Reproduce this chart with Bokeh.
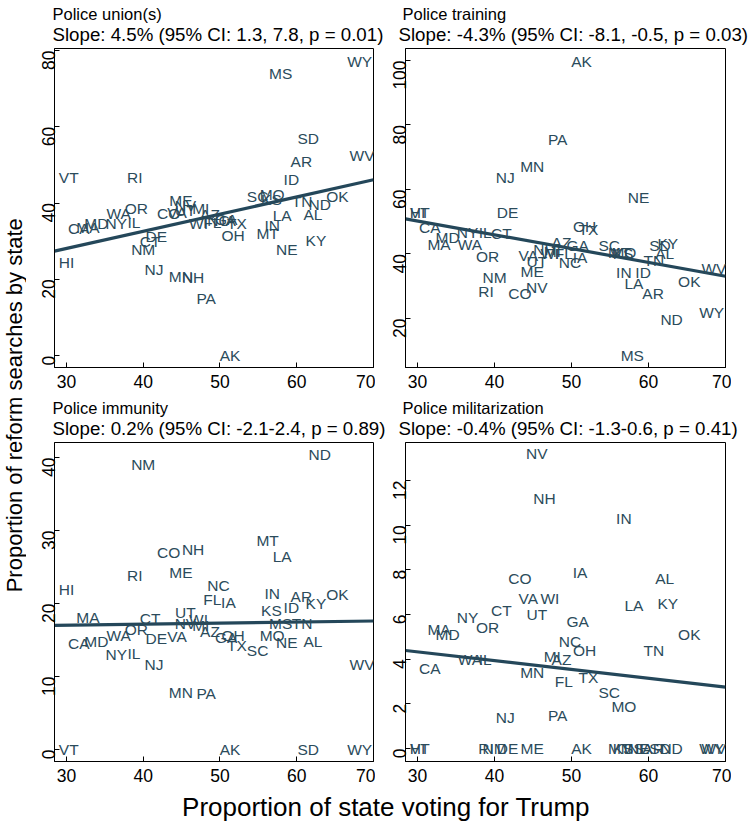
import math
from bokeh.plotting import figure
from bokeh.layouts import row, column
from bokeh.models import Range1d, FixedTicker, ColumnDataSource, Label
from bokeh.core.properties import value
from bokeh.embed import file_html
from bokeh.resources import INLINE

# ---------------- data ----------------
states = ["AL", "AK", "AZ", "AR", "CA", "CO", "CT", "DE", "FL", "GA",
          "HI", "ID", "IL", "IN", "IA", "KS", "KY", "LA", "ME", "MD",
          "MA", "MI", "MN", "MS", "MO", "MT", "NE", "NV", "NH", "NJ",
          "NM", "NY", "NC", "ND", "OH", "OK", "OR", "PA", "RI", "SC",
          "SD", "TN", "TX", "UT", "VT", "VA", "WA", "WV", "WI", "WY"]

trump_share = [62.1, 51.3, 48.7, 60.6, 31.6, 43.3, 40.9, 41.7, 49.0, 50.8,
               30.0, 59.3, 38.8, 56.8, 51.1, 56.7, 62.5, 58.1, 44.9, 33.9,
               32.8, 47.5, 44.9, 57.9, 56.8, 56.2, 58.7, 45.5, 46.5, 41.4,
               40.0, 36.5, 49.8, 63.0, 51.7, 65.3, 39.1, 48.2, 38.9, 54.9,
               61.5, 60.7, 52.2, 45.5, 30.3, 44.4, 36.8, 68.5, 47.2, 68.2]

union = [37.0, 0.0, 37.0, 51.0, 33.3, 37.3, 29.8, 31.2, 35.0, 35.8,
         24.5, 46.1, 35.0, 34.1, 35.5, 40.8, 30.2, 36.7, 40.7, 34.6,
         33.5, 38.6, 20.8, 73.9, 42.3, 31.9, 27.7, 39.4, 20.4, 22.7,
         27.7, 34.6, 35.5, 39.6, 31.5, 41.7, 38.5, 15.0, 46.8, 41.7,
         56.9, 40.4, 34.7, 38.0, 46.8, 37.5, 37.2, 52.5, 34.6, 77.2]

training = [40.1, 99.8, 43.7, 27.7, 48.1, 27.7, 46.3, 53.0, 40.0, 42.6,
            52.7, 34.4, 46.8, 34.4, 39.0, 40.2, 43.2, 30.8, 34.7, 45.2,
            43.0, 40.9, 67.1, 8.5, 40.6, 40.5, 57.6, 29.7, 41.3, 63.8,
            32.6, 46.5, 37.5, 19.6, 48.5, 31.6, 39.2, 75.4, 28.5, 42.6,
            42.6, 38.0, 47.5, 37.8, 52.7, 39.5, 43.0, 35.4, 40.0, 22.0]

immunity = [14.8, 0.0, 16.1, 20.9, 14.5, 27.0, 17.9, 15.2, 20.6, 15.4,
            21.9, 19.5, 13.1, 21.4, 20.2, 19.0, 20.0, 26.4, 24.3, 14.8,
            18.1, 17.0, 7.8, 17.3, 15.6, 28.6, 14.7, 17.3, 27.4, 11.7,
            39.1, 13.0, 22.5, 40.4, 15.6, 21.3, 16.4, 7.7, 23.8, 13.5,
            0.0, 17.2, 14.2, 18.7, 0.0, 15.5, 15.6, 11.7, 17.8, 0.0]

militarization = [7.6, 0.0, 4.0, 0.0, 3.6, 7.6, 6.2, 0.0, 3.0, 5.7,
                  0.0, 0.0, 4.0, 10.3, 7.9, 0.0, 6.5, 6.4, 0.0, 5.1,
                  5.35, 4.1, 3.4, 0.0, 1.9, 0.0, 0.0, 13.2, 11.2, 1.4,
                  0.0, 5.85, 4.8, 0.0, 4.4, 5.1, 5.4, 1.5, 0.0, 2.5,
                  0.0, 4.4, 3.2, 6.0, 0.0, 6.7, 4.0, 0.0, 6.7, 0.0]

panel_titles = ["Police union(s)", "Police training",
                "Police immunity", "Police militarization"]
slope_texts = ["Slope: 4.5% (95% CI: 1.3, 7.8, p = 0.01)",
               "Slope: -4.3% (95% CI: -8.1, -0.5, p = 0.03)",
               "Slope: 0.2% (95% CI: -2.1-2.4, p = 0.89)",
               "Slope: -0.4% (95% CI: -1.3-0.6, p = 0.41)"]

# fitted lines, at the left and right edges
fit_x = [28.44, 70.0]
union_fit = [27.4, 46.1]
training_fit = [50.9, 33.1]
immunity_fit = [17.0, 17.6]
militarization_fit = [4.39, 2.75]

x_ticks = [30, 40, 50, 60, 70]
union_ticks = [0, 20, 40, 60, 80]
training_ticks = [20, 40, 60, 80, 100]
immunity_ticks = [0, 10, 20, 30, 40]
militarization_ticks = [0, 2, 4, 6, 8, 10, 12]

x_title = "Proportion of state voting for Trump"
y_title = "Proportion of reform searches by state"

# ---------------- style ----------------
FONT = "Liberation Sans"
LABEL_COLOR = "#2b4b5b"
LINE_COLOR = "#24475a"
FRAME_H = 319
YLAB_W = 26
HEADER_W = 726


def make_panel(yvals, fit_y, y_range, yticks, left, right, bottom, frame_w):
    p = figure(frame_width=frame_w, frame_height=FRAME_H,
               x_range=Range1d(28.44, 70.0), y_range=Range1d(*y_range),
               output_backend="svg", toolbar_location=None, title=None,
               min_border_left=left, min_border_right=right,
               min_border_top=1, min_border_bottom=bottom)
    p.outline_line_color = "black"
    p.outline_line_width = 1
    p.grid.visible = False
    p.background_fill_color = "white"
    p.border_fill_color = "white"

    for ax in (p.xaxis[0], p.yaxis[0]):
        ax.axis_line_color = "black"
        ax.major_tick_line_color = "black"
        ax.major_tick_in = 5
        ax.major_tick_out = 0
        ax.minor_tick_line_color = None
        ax.major_label_text_font = FONT
        ax.major_label_text_font_size = "17.5px"
        ax.major_label_text_color = "black"
    p.xaxis.ticker = FixedTicker(ticks=x_ticks)
    p.yaxis.ticker = FixedTicker(ticks=yticks)
    p.xaxis.major_label_standoff = 7
    p.yaxis.major_label_standoff = 6
    p.yaxis.major_label_orientation = math.pi / 2

    src = ColumnDataSource(dict(x=trump_share, y=yvals, t=states))
    p.line(fit_x, fit_y, line_color=LINE_COLOR, line_width=3.2)
    p.text("x", "y", text="t", source=src, text_align="center",
           text_baseline="middle", text_font=value(FONT),
           text_font_size="15.5px", text_color=LABEL_COLOR)
    return p


def blank(width, height, xr, yr):
    f = figure(width=width, height=height, x_range=Range1d(*xr),
               y_range=Range1d(*yr), output_backend="svg",
               toolbar_location=None, min_border=0, title=None)
    f.axis.visible = False
    f.grid.visible = False
    f.outline_line_color = None
    return f


def header(height, left_title, left_slope, right_title, right_slope,
           y_title_pos, y_slope_pos):
    h = blank(HEADER_W, height, (0, HEADER_W), (0, height))
    for x, y, t, size in [(26, y_title_pos, left_title, "16.5px"),
                          (26, y_slope_pos, left_slope, "18.7px"),
                          (376, y_title_pos, right_title, "16.5px"),
                          (372, y_slope_pos, right_slope, "18.7px")]:
        h.add_layout(Label(x=x, y=y, text=t, text_align="left",
                           text_baseline="middle", text_font=FONT,
                           text_font_size=size, text_color="black"))
    return h


p1 = make_panel(union, union_fit, (-3.1, 80.5), union_ticks, 28, 2, 29, 319)
p2 = make_panel(training, training_fit, (4.8, 103.7), training_ticks,
                30, 6, 29, 320)
p3 = make_panel(immunity, immunity_fit, (-1.64, 42.05), immunity_ticks,
                28, 2, 29, 319)
p4 = make_panel(militarization, militarization_fit, (-0.58, 13.7),
                militarization_ticks, 30, 6, 29, 320)

h1 = header(47, panel_titles[0], slope_texts[0], panel_titles[1],
            slope_texts[1], 34, 13)
h2 = header(45, panel_titles[2], slope_texts[2], panel_titles[3],
            slope_texts[3], 34, 13)

xlab = blank(705, 31, (0, 1), (0, 1))
xlab.add_layout(Label(x=0.51, y=0.46, text=x_title,
                      text_align="center", text_baseline="middle",
                      text_font=FONT, text_font_size="26px",
                      text_color="black"))

total_h = 47 + 349 + 45 + 349 + 31
ylab = blank(YLAB_W, total_h, (0, 1), (0, 1))
ylab.add_layout(Label(x=0.52, y=0.507, text=y_title, angle=math.pi / 2,
                      text_align="center", text_baseline="middle",
                      text_font=FONT, text_font_size="22px",
                      text_color="black"))

layout = row(ylab, column(h1, row(p1, p2), h2, row(p3, p4), xlab))

open("out.html", "w").write(file_html(layout, INLINE))
